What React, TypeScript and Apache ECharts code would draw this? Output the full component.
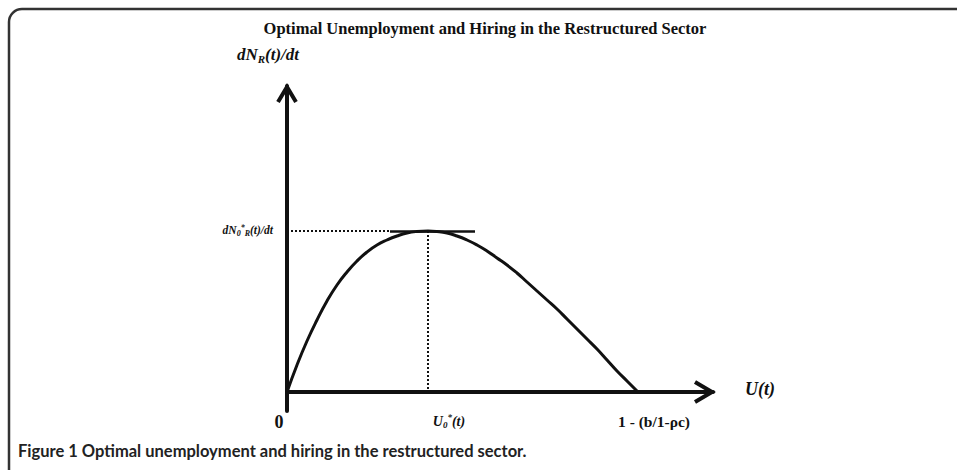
import React, { useEffect, useRef } from "react";
import * as echarts from "echarts";

// Curve: x = unemployment U(t), y = hiring dN_R(t)/dt (arbitrary units)
const curveX = [0, 10, 20, 30, 40, 50, 60, 70, 80, 90, 100, 110, 120, 130, 141, 150, 160, 170, 180, 190, 200, 210, 220, 230, 240, 250, 260, 270, 280, 290, 300, 310, 320, 330, 340, 351];
const curveY = [0, 27, 51, 72, 91, 107, 120, 131, 140, 147, 152, 156, 159, 160.5, 161, 160.5, 159, 156, 152, 147, 141, 134, 127, 119, 110, 101, 92, 83, 73, 63, 53, 43, 32, 21, 11, 0];
const peakX = 141;
const peakY = 161;
const rootX = 351;
const tangentRange = [103, 188];
const xRange = [0, 426];
const yRange = [-19, 306];

const titleText = "Optimal Unemployment and Hiring in the Restructured Sector";
const captionText = "Figure 1 Optimal unemployment and hiring in the restructured sector.";
const xTickLabels = ["0", "U0*(t)", "1 - (b/1-ρc)"];

const SERIF = "'Liberation Serif', 'DejaVu Serif', serif";
const ink = "#111";

export default function App() {
  const ref = useRef<HTMLDivElement>(null);
  useEffect(() => {
    document.body.style.margin = "0";
    if (!ref.current) return;
    const chart = echarts.init(ref.current, null, { renderer: "svg" });
    const data = curveX.map((x, i) => [x, curveY[i]]);
    chart.setOption({
      animation: false,
      backgroundColor: "#fff",
      grid: { left: 287, top: 86, right: 244, bottom: 59 },
      xAxis: {
        type: "value",
        min: xRange[0],
        max: xRange[1],
        axisLine: { onZero: true, lineStyle: { color: ink, width: 4 } },
        axisTick: { show: false },
        axisLabel: { show: false },
        splitLine: { show: false },
      },
      yAxis: {
        type: "value",
        min: yRange[0],
        max: yRange[1],
        axisLine: { show: true, onZero: true, lineStyle: { color: ink, width: 4 } },
        axisTick: { show: false },
        axisLabel: { show: false },
        splitLine: { show: false },
      },
      series: [
        {
          type: "line",
          data,
          smooth: true,
          showSymbol: false,
          lineStyle: { color: ink, width: 3 },
          markLine: {
            silent: true,
            symbol: "none",
            label: { show: false },
            data: [
              [
                { coord: [0, peakY], lineStyle: { type: [2, 2], width: 2, color: ink } },
                { coord: [tangentRange[0], peakY] },
              ],
              [
                { coord: [peakX, peakY], lineStyle: { type: [2, 2], width: 2, color: ink } },
                { coord: [peakX, 0] },
              ],
              [
                { coord: [tangentRange[0], peakY], lineStyle: { type: "solid", width: 2.5, color: ink } },
                { coord: [tangentRange[1], peakY] },
              ],
            ],
          },
        },
      ],
    });

    const px = (x: number, y: number) => chart.convertToPixel({ gridIndex: 0 }, [x, y]) as number[];
    const o = px(0, 0);
    const yTip = px(0, yRange[1]);
    const xTip = px(xRange[1], 0);
    const pk = px(peakX, peakY);
    const rt = px(rootX, 0);

    const mk = (size: number, small: number, lh: number, drop: number) => ({
      i: { fontFamily: SERIF, fontWeight: "bold", fontStyle: "italic", fontSize: size, fill: ink, lineHeight: lh },
      s: { fontFamily: SERIF, fontWeight: "bold", fontStyle: "italic", fontSize: small, fill: ink, verticalAlign: "bottom", lineHeight: lh, padding: [drop, 0, 0, 0] },
      p: { fontFamily: SERIF, fontWeight: "bold", fontStyle: "italic", fontSize: small, fill: ink, verticalAlign: "top", lineHeight: lh },
    });

    chart.setOption({
      graphic: [
        {
          type: "rect",
          shape: { x: 9, y: 9, width: 1200, height: 800, r: [13, 0, 0, 0] },
          style: { fill: "none", stroke: "#333", lineWidth: 2.5 },
          silent: true,
        },
        {
          type: "text",
          style: { text: titleText, x: 485, y: 28, textAlign: "center", textVerticalAlign: "middle", font: `bold 16.5px ${SERIF}`, fill: ink },
        },
        {
          type: "polyline",
          shape: { points: [[yTip[0] - 9, yTip[1] + 16], [yTip[0], yTip[1] + 1], [yTip[0] + 9, yTip[1] + 16]] },
          style: { stroke: ink, lineWidth: 4, fill: "none" },
        },
        {
          type: "polyline",
          shape: { points: [[xTip[0] - 18, xTip[1] - 10], [xTip[0] - 1, xTip[1]], [xTip[0] - 18, xTip[1] + 10]] },
          style: { stroke: ink, lineWidth: 4, fill: "none" },
        },
        {
          type: "text",
          style: { text: "{i|dN}{s|R}{i|(t)/dt}", rich: mk(17, 11, 20, 9), x: yTip[0] + 12, y: 54, textAlign: "right", textVerticalAlign: "middle" },
        },
        {
          type: "text",
          style: { text: "{i|dN}{s|0}{p|*}{s|R}{i|(t)/dt}", rich: mk(11.5, 8, 14, 5), x: o[0] - 14, y: pk[1] - 1, textAlign: "right", textVerticalAlign: "middle" },
        },
        {
          type: "text",
          style: { text: xTickLabels[0], x: o[0] - 8, y: o[1] + 30, textAlign: "center", textVerticalAlign: "middle", font: `bold 18px ${SERIF}`, fill: ink },
        },
        {
          type: "text",
          style: { text: "{i|U}{s|0}{p|*}{i|(t)}", rich: mk(14, 9, 17, 7), x: pk[0] + 21, y: o[1] + 29, textAlign: "center", textVerticalAlign: "middle" },
        },
        {
          type: "text",
          style: { text: xTickLabels[2], x: rt[0] + 16, y: o[1] + 29, textAlign: "center", textVerticalAlign: "middle", font: `bold 15.5px ${SERIF}`, fill: ink },
        },
        {
          type: "text",
          style: { text: "U(t)", x: xTip[0] + 32, y: xTip[1] - 3, textVerticalAlign: "middle", font: `italic bold 18px ${SERIF}`, fill: ink },
        },
        {
          type: "text",
          style: { text: captionText, x: 18, y: 451, textVerticalAlign: "middle", font: `bold 16.5px Lato, 'Open Sans', sans-serif`, fill: "#222" },
        },
      ],
    });
    return () => chart.dispose();
  }, []);
  return <div ref={ref} style={{ width: 957, height: 470 }} />;
}
